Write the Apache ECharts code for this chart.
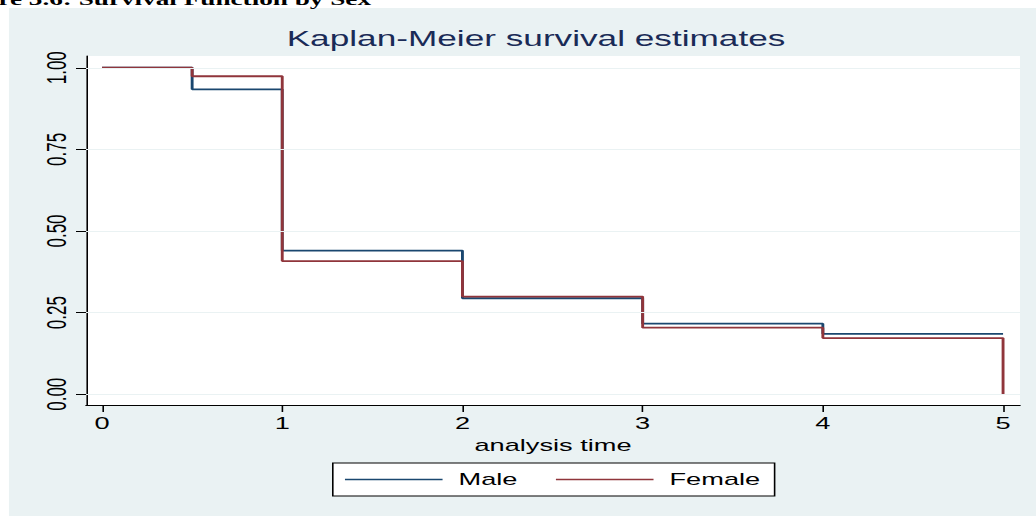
<!DOCTYPE html>
<html>
<head>
<meta charset="utf-8">
<script src="https://cdn.jsdelivr.net/npm/echarts@6/dist/echarts.min.js"></script>
<style>
  html, body { margin: 0; padding: 0; background: #ffffff; }
  #frame { width: 1036px; height: 516px; overflow: hidden; position: relative; }
  /* the figure is laid out at 648px wide and stretched horizontally to the page width */
  #chart { width: 648px; height: 516px; transform: scaleX(1.6); transform-origin: 0 0; }
</style>
</head>
<body>
<div id="frame"><div id="chart"></div></div>
<script>
// Kaplan-Meier step estimates by sex
const timePoints = [0, 0.5, 1, 2, 3, 4, 5];
const maleSurvival = [1, 0.934, 0.44, 0.294, 0.216, 0.185, 0.185];
const femaleSurvival = [1, 0.974, 0.408, 0.299, 0.204, 0.172, 0];
const xTickValues = [0, 1, 2, 3, 4, 5];
const yTickValues = [0, 0.25, 0.5, 0.75, 1];
const seriesNames = ['Male', 'Female'];

const FONT = '"Liberation Sans", Arial, Helvetica, sans-serif';
const pair = (xs, ys) => xs.map((x, i) => [x, ys[i]]);

const chart = echarts.init(document.getElementById('chart'), null, { renderer: 'svg' });

chart.setOption({
  animation: false,
  backgroundColor: '#ffffff',
  graphic: [
    { type: 'rect', z: -10, silent: true,
      shape: { x: 5.6, y: 8, width: 660, height: 520 },
      style: { fill: '#EAF2F3' } },
    { type: 'text', z: 10, silent: true, x: -1, y: 8,
      style: { text: 're 3.6: Survival Function by Sex', fill: '#000000',
               font: 'bold 17px "Liberation Serif", "Times New Roman", serif',
               verticalAlign: 'bottom', align: 'left' } },
    { type: 'text', z: 10, silent: true, x: 335, y: 38,
      style: { text: 'Kaplan-Meier survival estimates', fill: '#1A2B57',
               font: '22px ' + FONT, align: 'center', verticalAlign: 'middle' } }
  ],
  grid: {
    left: 53.75, right: 10.5, top: 56, bottom: 111,
    show: true, backgroundColor: '#ffffff', borderWidth: 0
  },
  legend: {
    data: seriesNames,
    left: 208, top: 463,
    orient: 'horizontal',
    padding: [8, 9, 8, 7.6],
    backgroundColor: '#ffffff',
    borderColor: '#000000', borderWidth: 1,
    icon: 'rect',
    itemWidth: 61, itemHeight: 1.4, itemGap: 24,
    textStyle: { fontFamily: FONT, fontSize: 17, color: '#000000', padding: [0, 0, 0, 5] }
  },
  xAxis: {
    type: 'value', min: -0.089, max: 5.094,
    name: 'analysis time', nameLocation: 'middle', nameGap: 25,
    nameTextStyle: { fontFamily: FONT, fontSize: 17, color: '#000000' },
    axisLine: { onZero: false, lineStyle: { color: '#000000', width: 1 } },
    axisTick: { show: true, length: 7, customValues: xTickValues, lineStyle: { color: '#000000' } },
    axisLabel: { customValues: xTickValues, margin: 10, fontFamily: FONT, fontSize: 17, color: '#000000' },
    splitLine: { show: false }
  },
  yAxis: {
    type: 'value', min: -0.033, max: 1.036,
    axisLine: { show: true, onZero: false, lineStyle: { color: '#000000', width: 1 } },
    axisTick: { show: true, length: 6.25, customValues: yTickValues, lineStyle: { color: '#000000' } },
    axisLabel: { customValues: yTickValues, rotate: 90, margin: 10,
                 fontFamily: FONT, fontSize: 17, color: '#000000',
                 formatter: v => Number(v).toFixed(2) },
    splitLine: { show: false }
  },
  series: [
    { // horizontal grid lines at the labelled survival levels
      name: 'gridlines', type: 'line', data: [], silent: true,
      markLine: {
        silent: true, symbol: ['none', 'none'], label: { show: false },
        lineStyle: { color: '#EAF2F3', width: 1, type: 'solid' },
        emphasis: { disabled: true },
        data: yTickValues.map(v => ({ yAxis: v }))
      }
    },
    { name: seriesNames[0], type: 'line', step: 'end', symbol: 'none',
      data: pair(timePoints, maleSurvival),
      color: '#1A476F', lineStyle: { color: '#1A476F', width: 1.8 },
      emphasis: { disabled: true } },
    { name: seriesNames[1], type: 'line', step: 'end', symbol: 'none',
      data: pair(timePoints, femaleSurvival),
      color: '#90353B', lineStyle: { color: '#90353B', width: 1.8 },
      emphasis: { disabled: true } }
  ]
});
</script>
</body>
</html>
